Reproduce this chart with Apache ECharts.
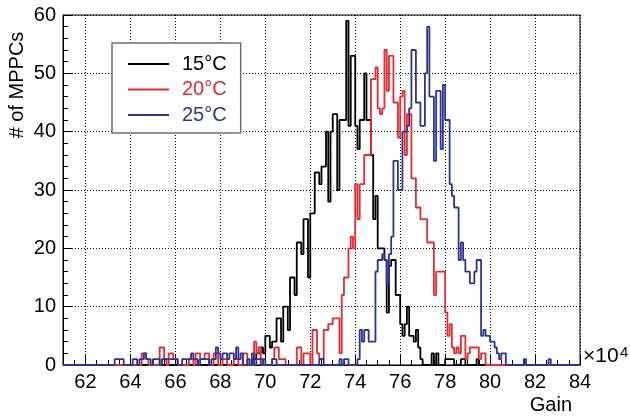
<!DOCTYPE html>
<html><head><meta charset="utf-8">
<script src="https://cdn.jsdelivr.net/npm/echarts@6/dist/echarts.min.js"></script>
<style>html,body{margin:0;padding:0;background:#fff}#c{width:630px;height:418px}</style>
</head><body><div id="c"></div>
<script>
// ---- data ----
const binWidth = 0.1;
const xMin = 61, xMax = 84;
const yMin = 0, yMax = 60;
const xTickLabels = [62, 64, 66, 68, 70, 72, 74, 76, 78, 80, 82, 84];
const yTickLabels = [0, 10, 20, 30, 40, 50, 60];
const seriesNames = ['15°C', '20°C', '25°C'];
const xTitle = 'Gain';
const yTitle = '# of MPPCs';

const blackStart = 69.4;
const blackCounts = [1,1,2,2,3,2,
  5,5,3,4,4,8,8,4,10,10,
  6,15,15,12,21,21,19,25,25,15,
  26,26,33,33,31,34,34,40,28,40,
  43,43,30,42,42,42,59,41,53,53,
  41,37,42,42,50,42,42,36,25,29,
  20,20,20,18,9,17,18,18,12,12,
  7,5,7,10,5,5,4,6,3,1,
  0,0,0,0,2,0,2,0,0,0,
  1,1,1,1,0,0,0,1,1,0,
  0,0,0,0,1];

const redStart = 64.4;
const redCounts = [0,2,2,1,0,0,
  0,0,0,3,3,1,0,2,2,1,
  1,0,0,0,0,0,1,1,0,2,
  2,1,1,2,2,0,0,2,2,0,
  0,1,1,0,0,0,1,1,0,0,
  2,2,0,0,0,4,2,3,1,0,
  0,0,0,1,3,3,1,1,1,0,
  0,0,0,0,3,3,0,2,2,2,
  0,6,6,2,1,1,6,6,7,7,
  8,8,8,2,12,15,15,20,22,20,
  31,25,31,31,36,36,36,49,49,51,
  44,43,44,54,47,53,53,45,45,39,
  46,47,36,43,43,32,32,27,27,25,
  25,25,21,21,21,12,16,16,16,16,
  9,5,7,3,2,3,2,5,5,1,
  2,3,3,3,3,1,2,2];

const blueStart = 63.2;
const blueCounts = [0,1,1,1,1,0,0,0,
  0,1,1,0,1,1,2,1,1,0,
  1,1,1,0,1,1,1,1,1,1,
  1,0,0,1,1,1,1,2,1,1,
  0,1,1,1,1,0,1,1,3,2,
  1,2,2,1,2,2,1,3,1,2,
  0,0,1,0,2,0,1,1,0,1,
  0,0,0,1,1,0,0,0,0,0,
  0,0,0,0,0,0,0,0,0,0,
  0,0,0,0,1,1,0,0,0,0,
  0,0,0,1,0,1,1,0,0,0,
  0,1,6,4,6,6,4,4,4,16,
  18,18,19,18,14,19,22,35,35,30,
  30,40,40,41,44,54,54,45,45,41,
  41,50,58,46,46,35,47,47,37,48,
  42,42,31,29,27,27,18,21,18,16,
  16,14,14,16,18,18,5,6,5,5,
  4,4,3,2,1,2,2,0,0,0,
  0,0,0,0,0,1,0,0,0,0,
  0,0,0,0,0,0,1];

const seriesColors = ['#000000', '#ea2a2e', '#2e3394'];

// ---- build step outlines through the axis scales ----
function buildSteps(start, counts) {
  const nBins = Math.round((xMax - xMin) / binWidth);
  const full = new Array(nBins).fill(0);
  const offset = Math.round((start - xMin) / binWidth);
  counts.forEach((c, i) => { full[offset + i] = c; });
  const pts = full.map((c, i) => [Math.round((xMin + i * binWidth) * 10) / 10, c]);
  pts.push([xMax, full[nBins - 1]]);
  return pts;
}
const allSeries = [[blackStart, blackCounts], [redStart, redCounts], [blueStart, blueCounts]];

const FONT = "'Liberation Sans', Arial, sans-serif";
const gridDot = { color: '#000', width: 1, type: [1, 2] };

const chart = echarts.init(document.getElementById('c'), null, { renderer: 'canvas' });
chart.setOption({
  animation: false,
  backgroundColor: '#fff',
  grid: { left: 63, right: 50, top: 15, bottom: 53, show: true, borderColor: '#000', borderWidth: 1, backgroundColor: 'transparent', outerBoundsMode: 'none' },
  xAxis: [{
    type: 'value', min: xMin, max: xMax, interval: 0.5, position: 'bottom',
    axisLine: { show: true, onZero: false, lineStyle: { color: '#000', width: 1 } },
    axisTick: { show: true, inside: true, length: 10, customValues: xTickLabels, lineStyle: { color: '#000', width: 1 } },
    axisLabel: { show: true, customValues: xTickLabels, fontSize: 20, color: '#000', fontFamily: FONT, margin: 7 },
    splitLine: { show: true, lineStyle: gridDot }
  }, {
    type: 'value', min: xMin, max: xMax, interval: 0.5, position: 'bottom',
    axisLine: { show: false },
    axisTick: { show: true, inside: true, length: 5, lineStyle: { color: '#000', width: 1 } },
    axisLabel: { show: false },
    splitLine: { show: false }
  }],
  yAxis: {
    type: 'value', min: yMin, max: yMax, interval: 10,
    axisLine: { show: true, lineStyle: { color: '#000', width: 1 } },
    axisTick: { show: true, inside: true, length: 10, lineStyle: { color: '#000', width: 1 } },
    minorTick: { show: true, splitNumber: 5, length: 5, lineStyle: { color: '#000', width: 1 } },
    axisLabel: { show: true, fontSize: 20, color: '#000', fontFamily: FONT, margin: 7,
      customValues: yTickLabels },
    splitLine: { show: true, lineStyle: gridDot }
  },
  legend: {
    orient: 'vertical', left: 112, top: 43,
    backgroundColor: '#fff', borderColor: '#707070', borderWidth: 1.5, borderRadius: 0,
    padding: [11, 14, 8, 16],
    itemWidth: 41, itemHeight: 2, itemGap: 5.5, icon: 'rect',
    textStyle: { fontSize: 20, fontFamily: FONT, lineHeight: 20, padding: [0, 0, 0, 8] },
    data: seriesNames.map((n, i) => ({ name: n, textStyle: { color: seriesColors[i] } }))
  },
  series: allSeries.map(([s, c], i) => ({
    name: seriesNames[i], type: 'line', step: 'end', xAxisIndex: 0,
    data: buildSteps(s, c), showSymbol: false, symbol: 'none',
    lineStyle: { color: seriesColors[i], width: 1.8 },
    itemStyle: { color: seriesColors[i] },
    z: 3 + i
  })),
  graphic: [
    { type: 'text', x: 17, y: 85, rotation: Math.PI / 2,
      style: { text: yTitle, fontSize: 20, fontFamily: FONT, fill: '#000', align: 'center', verticalAlign: 'middle' } },
    { type: 'text', x: 572, y: 405,
      style: { text: xTitle, fontSize: 20, fontFamily: FONT, fill: '#000', align: 'right', verticalAlign: 'middle' } },
    { type: 'text', x: 583, y: 367,
      style: { text: '×10', fontSize: 21, fontFamily: FONT, fill: '#000', align: 'left', verticalAlign: 'bottom' } },
    { type: 'text', x: 620, y: 360,
      style: { text: '4', fontSize: 15, fontFamily: FONT, fill: '#000', align: 'left', verticalAlign: 'bottom' } }
  ]
});
</script></body></html>
